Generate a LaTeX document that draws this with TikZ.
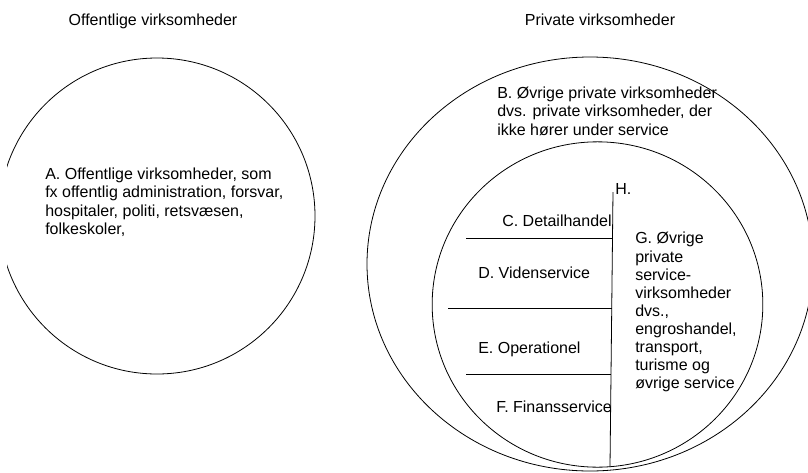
\documentclass[tikz,border=0pt]{standalone}
\usepackage{fontspec}
\setmainfont{Liberation Sans}
\usetikzlibrary{shapes.geometric}

\begin{document}
\begin{tikzpicture}[x=0.75pt, y=-0.75pt,
		ring/.style={ellipse, draw=black, line width=0.6pt, inner sep=0pt},
		lbl/.style={anchor=north west, inner sep=0pt, align=left, font=\fontsize{12}{13.6}\selectfont},
		heading/.style={anchor=base, inner sep=0pt, font=\fontsize{12}{13.6}\selectfont},
		divider/.style={draw=black, line width=0.6pt},
	]
	\useasboundingbox (0,0) rectangle (808,472);

	%Circles
	\begin{scope}
		\clip (7,0) rectangle (808,472);
		\node[ring, minimum width=237pt, minimum height=237pt] (pub) at (157,216) {};
	\end{scope}
	\node[ring, minimum width=334.5pt, minimum height=310.5pt] (priv) at (590,264) {};
	\node[ring, minimum width=248pt, minimum height=244pt] (serv) at (597.5,304.5) {};

	%Lines
	\coordinate (htop) at (613,192);
	\coordinate (hbot) at (610,467);
	\coordinate (c1) at (466,238);  \coordinate (c2) at (612,238);
	\coordinate (d1) at (448,308);  \coordinate (d2) at (612,308);
	\coordinate (e1) at (466,374);  \coordinate (e2) at (611,374);
	\draw[divider] (htop) -- (hbot);
	\draw[divider] (c1) -- (c2);
	\draw[divider] (d1) -- (d2);
	\draw[divider] (e1) -- (e2);

	%Labels
	\node[heading] (titlepub)  at (153,25) {Offentlige virksomheder};
	\node[heading] (titlepriv) at (600,25) {Private virksomheder};
	\node[lbl] (descA) at (45,168) {A. Offentlige virksomheder, som\\fx offentlig administration, forsvar,\\hospitaler, politi, retsvæsen,\\folkeskoler,};
	\node[lbl] (descB) at (497,87) {B. Øvrige private virksomheder\\dvs. private virksomheder, der\\ikke hører under service};
	\node[lbl] (descC) at (502,215) {C. Detailhandel};
	\node[lbl] (descD) at (478,267) {D. Videnservice};
	\node[lbl] (descE) at (478,342) {E. Operationel};
	\node[lbl] (descF) at (496,401) {F. Finansservice};
	\node[lbl] (descG) at (635,232) {G. Øvrige\\private\\service-\\virksomheder\\dvs.,\\engroshandel,\\transport,\\turisme og\\øvrige service};
	\node[lbl] (descH) at (615,183) {H.};

\end{tikzpicture}
\end{document}
